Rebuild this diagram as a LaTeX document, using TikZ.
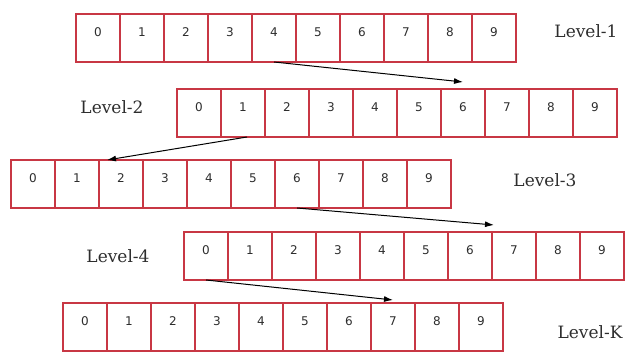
\documentclass[tikz,border=0pt]{standalone}
\usepackage{fontspec}
\setmainfont{DejaVu Serif}
\newfontfamily\digitfont{DejaVu Sans}
\usetikzlibrary{positioning,arrows.meta}
\definecolor{cellred}{RGB}{200,55,68}
\definecolor{textgray}{RGB}{45,45,45}
\tikzset{
  cell/.style={draw=cellred, line width=2.6pt, outer sep=0pt, inner sep=0pt,
    minimum width=44pt, minimum height=48pt, text height=8pt, text depth=10pt,
    font=\digitfont\fontsize{12}{12}\selectfont, text=textgray},
  levellabel/.style={font=\fontsize{17}{17}\selectfont, text=textgray},
  jump/.style={-{Latex[length=9pt,width=6pt]}, line width=1pt}
}
\begin{document}
\begin{tikzpicture}[x=1pt,y=-1pt]
  \useasboundingbox (0,0) rectangle (630,352);
  % one row of ten cells per level
  \foreach \row/\lx/\ty in {1/76/14, 2/177/89, 3/11/160, 4/184/232, 5/63/303} {
    \node[cell, anchor=north west] (l\row-0) at (\lx,\ty) {0};
    \foreach \i [count=\j from 0] in {1,...,9}
      \node[cell, right=0pt of l\row-\j] (l\row-\i) {\i};
  }
  \node[levellabel] (lab1) at (586,31) {Level-1};
  \node[levellabel] (lab2) at (112,107) {Level-2};
  \node[levellabel] (lab3) at (545,180) {Level-3};
  \node[levellabel] (lab4) at (118,256) {Level-4};
  \node[levellabel] (labk) at (590,332) {Level-K};
  % jumps between levels
  \draw[jump] (l1-4.south) -- ([yshift=7pt]l2-6.north);
  \draw[jump] ([xshift=4pt]l2-1.south) -- ([xshift=8pt]l3-2.north west);
  \draw[jump] (l3-6.south) -- ([xshift=2pt,yshift=7pt]l4-7.north west);
  \draw[jump] (l4-0.south) -- ([yshift=3pt]l5-7.north);
\end{tikzpicture}
\end{document}
